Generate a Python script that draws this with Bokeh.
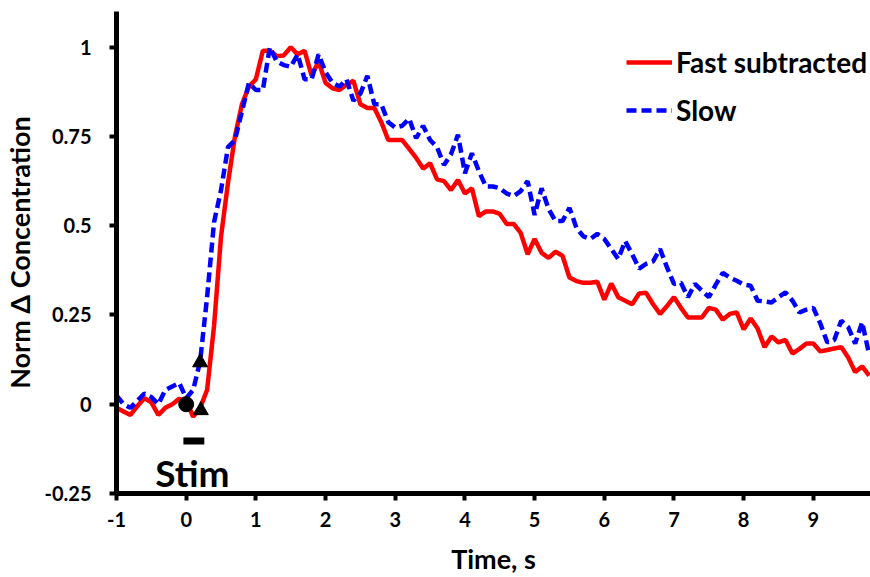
from bokeh.plotting import figure
from bokeh.models import Range1d, FixedTicker, Legend, LegendItem, Label, CustomJSTickFormatter
from bokeh.embed import file_html
from bokeh.resources import INLINE

# ---- data ----
time_s = [round(-1.0 + 0.1 * i, 1) for i in range(109)]

fast_subtracted = [
    -0.01, -0.02, -0.03, -0.005, 0.017, 0.005, -0.03, -0.01, 0.0, 0.015,
    0.01, -0.035, -0.01, 0.04, 0.22, 0.47, 0.62, 0.75, 0.84, 0.89,
    0.91, 0.99, 0.99, 0.975, 0.977, 1.0, 0.98, 0.99, 0.92, 0.96,
    0.90, 0.885, 0.88, 0.895, 0.906, 0.84, 0.83, 0.83, 0.79, 0.74,
    0.74, 0.74, 0.715, 0.69, 0.66, 0.675, 0.63, 0.625, 0.60, 0.628,
    0.59, 0.605, 0.527, 0.54, 0.54, 0.533, 0.505, 0.505, 0.48, 0.42,
    0.463, 0.424, 0.41, 0.427, 0.416, 0.355, 0.345, 0.34, 0.34, 0.343,
    0.293, 0.338, 0.30, 0.29, 0.28, 0.31, 0.312, 0.28, 0.253, 0.275,
    0.30, 0.27, 0.243, 0.243, 0.243, 0.27, 0.265, 0.237, 0.253, 0.257,
    0.21, 0.24, 0.212, 0.16, 0.19, 0.173, 0.18, 0.142, 0.155, 0.17,
    0.17, 0.148, 0.152, 0.156, 0.16, 0.131, 0.09, 0.106, 0.08,
]

slow = [
    0.025, 0.0, -0.01, 0.01, 0.03, 0.02, 0.0, 0.04, 0.05, 0.06,
    0.017, 0.04, 0.12, 0.30, 0.51, 0.60, 0.72, 0.74, 0.82, 0.90,
    0.88, 0.88, 1.0, 0.96, 0.95, 0.945, 0.98, 0.91, 0.91, 0.98,
    0.93, 0.90, 0.89, 0.91, 0.85, 0.87, 0.92, 0.84, 0.84, 0.79,
    0.775, 0.78, 0.80, 0.745, 0.78, 0.74, 0.72, 0.67, 0.70, 0.755,
    0.647, 0.703, 0.653, 0.61, 0.61, 0.605, 0.59, 0.583, 0.597, 0.625,
    0.53, 0.605, 0.547, 0.513, 0.513, 0.55, 0.494, 0.47, 0.463, 0.477,
    0.463, 0.435, 0.407, 0.457, 0.42, 0.38, 0.393, 0.40, 0.435, 0.383,
    0.337, 0.34, 0.30, 0.337, 0.318, 0.30, 0.335, 0.368, 0.355, 0.346,
    0.335, 0.332, 0.29, 0.288, 0.285, 0.30, 0.313, 0.29, 0.257, 0.265,
    0.27, 0.226, 0.173, 0.18, 0.234, 0.216, 0.17, 0.23, 0.14,
]

x_ticks = [-1, 0, 1, 2, 3, 4, 5, 6, 7, 8, 9]
y_ticks = [-0.25, 0, 0.25, 0.5, 0.75, 1]

circle_x, circle_y = [0.0], [0.0]
triangle_x, triangle_y = [0.2, 0.21], [0.117, -0.017]
stim_x, stim_y = [-0.04, 0.26], [-0.103, -0.103]

FONT = "Lato"

p = figure(width=870, height=577, output_backend="svg", toolbar_location=None,
           x_range=Range1d(-1, 9.82), y_range=Range1d(-0.25, 1.1),
           min_border_left=115, min_border_right=0, min_border_top=11, min_border_bottom=84)
p.outline_line_color = None
p.xgrid.visible = False
p.ygrid.visible = False
p.background_fill_color = "white"
p.border_fill_color = "white"

fmt = CustomJSTickFormatter(code="return String(tick);")
for ax, ticks in ((p.xaxis[0], x_ticks), (p.yaxis[0], y_ticks)):
    ax.ticker = FixedTicker(ticks=ticks)
    ax.formatter = fmt
    ax.axis_line_width = 5
    ax.axis_line_color = "black"
    ax.major_tick_line_width = 4
    ax.major_tick_line_color = "black"
    ax.major_tick_out = 7
    ax.major_tick_in = 0
    ax.minor_tick_line_color = None
    ax.major_label_text_font = FONT
    ax.major_label_text_font_style = "bold"
    ax.major_label_text_font_size = "20px"
    ax.major_label_text_color = "black"
    ax.axis_label_text_font = FONT
    ax.axis_label_text_font_style = "bold"
    ax.axis_label_text_font_size = "27px"
    ax.axis_label_text_color = "black"

p.xaxis.axis_label = "Time, s"
p.yaxis.axis_label = "Norm \u0394 Concentration"
p.xaxis.major_label_standoff = 11
p.yaxis.major_label_standoff = 18
p.xaxis.axis_label_standoff = 12
p.yaxis.axis_label_standoff = 5

r_fast = p.line(time_s, fast_subtracted, line_color="#FF0000", line_width=4.5)
r_slow = p.line(time_s, slow, line_color="#0000FF", line_width=4.5, line_dash="10 5")

p.line(stim_x, stim_y, line_color="black", line_width=7)
p.scatter(circle_x, circle_y, marker="circle", size=15, fill_color="black", line_color="black")
p.scatter(triangle_x, triangle_y, marker="triangle", size=15, fill_color="black", line_color="black")

p.add_layout(Label(x=0.09, y=-0.19, text="Stim", text_align="center", text_baseline="alphabetic",
                   text_font=FONT, text_font_style="bold", text_font_size="37px", text_color="black"))

legend = Legend(items=[LegendItem(label="Fast subtracted", renderers=[r_fast]),
                       LegendItem(label="Slow", renderers=[r_slow])],
                location=(510, 366), orientation="vertical",
                glyph_width=46, glyph_height=30, label_height=30, spacing=14,
                padding=0, margin=0, label_standoff=4,
                border_line_color=None, background_fill_alpha=0,
                label_text_font=FONT, label_text_font_style="bold",
                label_text_font_size="28px", label_text_color="black")
p.add_layout(legend, "center")

open("out.html", "w").write(file_html(p, INLINE))
